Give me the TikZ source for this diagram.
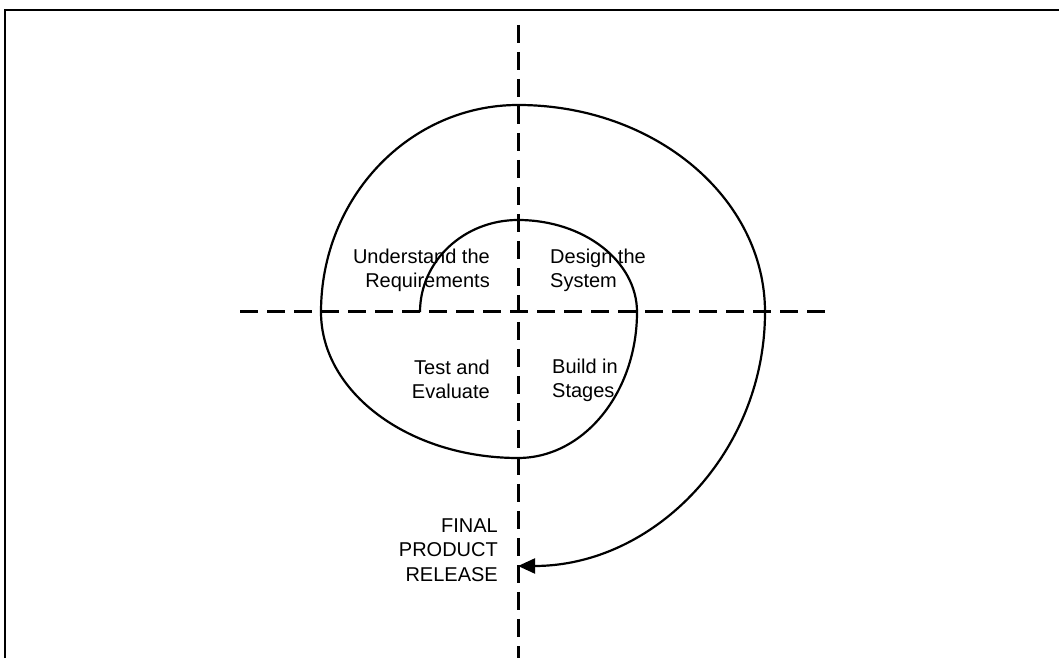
\documentclass[tikz,border=0pt]{standalone}
\usepackage{fontspec}
\setmainfont{Liberation Sans}
\usepackage{tikz}
\usetikzlibrary{arrows.meta,positioning}

\begin{document}
\begin{tikzpicture}[x=1pt, y=1pt,
  every node/.style={font=\fontsize{20}{24}\selectfont, inner sep=0pt},
  axis/.style={line width=3pt, dash pattern=on 18pt off 9pt},
  spiral/.style={line width=2.2pt},
  frame/.style={line width=2.4pt}]
  \useasboundingbox (0,0) rectangle (1059,658);
  \draw[frame] (5,0) |- (1059,648);

  % quadrant axes
  \coordinate (mid) at (518,346);
  \draw[axis] (240,346) -- (830,346);
  \draw[axis] (518,633) -- (518,0);

  % quadrant labels
  \node[anchor=east, align=right] (req) at (490,388) {Understand the\\Requirements};
  \node[anchor=west, align=left] (design) at (550,388) {Design the\\System};
  \node[anchor=east, align=right] (test) at (490,279) {Test and\\Evaluate};
  \node[anchor=west, align=left] (build) at (552,278) {Build in\\Stages};
  \node[anchor=east, align=right, font=\fontsize{20}{24.5}\selectfont] (release) at (498,108) {FINAL\\PRODUCT\\RELEASE};

  % the spiral, ending in the arrow at the release
  \coordinate (start) at (420,346);
  \draw[spiral, -{Triangle[length=17pt, width=15pt]}] (start)
    arc[start angle=180, end angle=90, x radius=98, y radius=92]
    arc[start angle=90, end angle=0, x radius=119, y radius=92]
    arc[start angle=0, end angle=-90, x radius=119, y radius=146]
    arc[start angle=-90, end angle=-180, x radius=197, y radius=146]
    arc[start angle=180, end angle=90, x radius=197, y radius=207]
    arc[start angle=90, end angle=0, x radius=247, y radius=207]
    arc[start angle=0, end angle=-90, x radius=247, y radius=254];
\end{tikzpicture}
\end{document}
